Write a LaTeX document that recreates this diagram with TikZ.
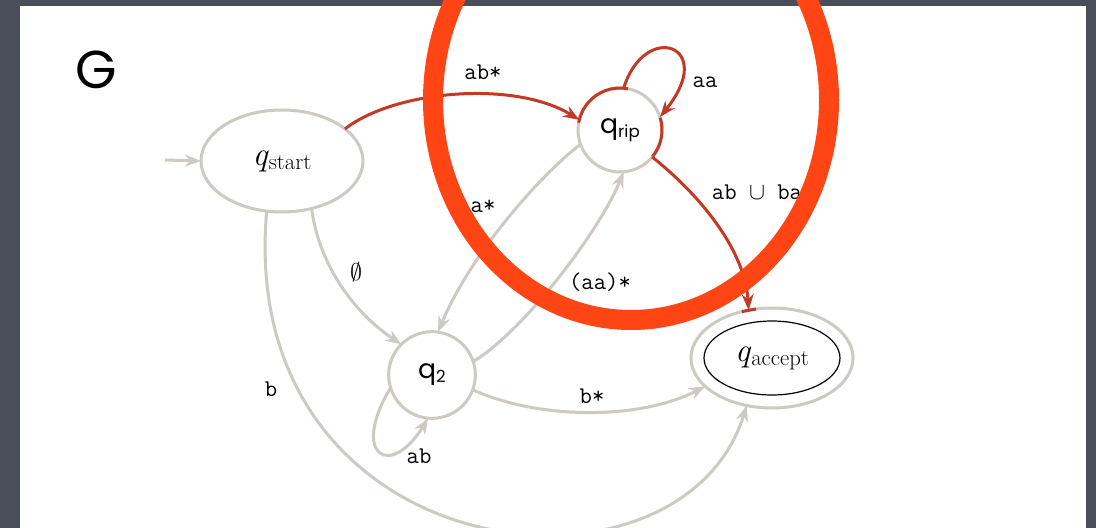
\RequirePackage{fix-cm}
\documentclass[tikz,border=0pt]{standalone}
\usepackage{fontspec}
\newfontfamily\slidefont{Poppins}
\usetikzlibrary{shapes.geometric,arrows.meta}
\definecolor{framegray}{RGB}{74,78,90}
\definecolor{edgegray}{RGB}{205,202,196}
\definecolor{edgered}{RGB}{196,57,37}
\definecolor{markorange}{RGB}{255,69,20}
\begin{document}
\begin{tikzpicture}[x=0.75pt, y=-0.75pt, >={Stealth[length=12pt,width=9pt]},
    circstate/.style={circle, draw=edgegray, line width=2.25pt, fill=white, minimum size=63pt,
      inner sep=0pt, outer sep=0pt, font=\slidefont\fontsize{20}{24}\selectfont},
    ellstate/.style={ellipse, draw=edgegray, line width=2.25pt, fill=white,
      inner sep=0pt, outer sep=0pt, font=\fontsize{25}{28}\selectfont},
    gedge/.style={->, draw=edgegray, line width=2.25pt},
    redge/.style={->, draw=edgered, line width=2.25pt},
    lbl/.style={font=\ttfamily\fontsize{18}{20}\selectfont, inner sep=0pt}]
    \useasboundingbox (0,0) rectangle (1096,528);
    \clip (0,0) rectangle (1096,528);
    % slide
    \fill[framegray] (0,0) rectangle (1096,528);
    \fill[white] (20,6) rectangle (1086,528);
    \node[font=\slidefont\fontsize{40}{44}\selectfont] (title) at (96,70) {G};
    % states
    \node[ellstate, minimum width=121.5pt, minimum height=76.5pt] (qstart) at (282,161)
      {\textit{q}\raisebox{-3pt}{\fontsize{17}{18}\selectfont start}};
    \node[circstate] (qrip) at (620,130) {q\raisebox{-3pt}{\fontsize{12.5}{14}\selectfont rip}};
    \node[circstate, minimum size=65pt] (q2) at (432,375) {q\raisebox{-3pt}{\fontsize{12.5}{14}\selectfont 2}};
    \node[ellstate, minimum width=121.5pt, minimum height=75pt] (qaccept) at (772,358)
      {\textit{q}\raisebox{-3pt}{\fontsize{17}{18}\selectfont accept}};
    \draw[black, line width=0.9pt] (qaccept.center) ellipse [x radius=68, y radius=37];
    % start arrow
    \coordinate (init) at (165,160);
    \draw[gedge] (init) -- (qstart.west);
    % gray edges
    \draw[gedge] (qstart.-58) .. controls (318,260) and (350,310) .. (q2.135);
    \draw[gedge] (qstart.-107) .. controls (235,570) and (680,620) .. (qaccept.-118);
    \draw[gedge] (qrip.200) .. controls (540,175) and (470,255) .. (q2.82);
    \draw[gedge] (q2.18) .. controls (525,330) and (600,230) .. (qrip.-85);
    \draw[gedge] (q2.-20) .. controls (540,420) and (640,420) .. (qaccept.203);
    \draw[gedge] (q2.197) .. controls (350,455) and (390,480) .. (q2.-95);
    % red edges
    \draw[redge] (qstart.27) .. controls (395,90) and (515,80) .. (qrip.166);
    \draw[redge] (qrip.85) .. controls (645,20) and (718,45) .. (qrip.18);
    \draw[redge] (qrip.-40) .. controls (700,195) and (745,250) .. (qaccept.116);
    \draw[edgered, line width=2.25pt] (qrip.170) arc[start angle=-170, end angle=-79, radius=42];
    \draw[edgered, line width=2.25pt] (qrip.17) arc[start angle=-17, end angle=39, radius=42];
    \draw[edgered, line width=2.25pt] (qaccept.123) -- (qaccept.108);
    % labels
    \node[lbl] (l-abst) at (483,72) {ab*};
    \node[lbl] (l-aa) at (705,82) {aa};
    \node[lbl] (l-abba) at (757,192) {ab $\cup$ ba};
    \node[lbl] (l-ast) at (483,206) {a*};
    \node[lbl] (l-empty) at (356,272) {$\emptyset$};
    \node[lbl] (l-aast) at (600,282) {(aa)*};
    \node[lbl] (l-b) at (271,389) {b};
    \node[lbl] (l-ab) at (419,456) {ab};
    \node[lbl] (l-bst) at (592,396) {b*};
    % mark
    \draw[markorange, line width=15pt] (631,100) ellipse [x radius=198, y radius=220];
\end{tikzpicture}
\end{document}
